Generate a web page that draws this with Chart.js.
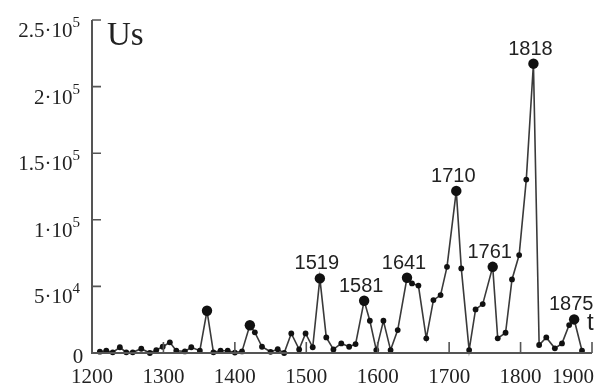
<!DOCTYPE html>
<html lang="en">
<head>
    <meta charset="UTF-8">
    <title>Us(t)</title>
    <script src="https://cdn.jsdelivr.net/npm/chart.js@4.4.1/dist/chart.umd.min.js"></script>
    <style>
        body { margin: 0; background: #fff; }
        #chart { display: block; }
    </style>
</head>
<body>
    <canvas id="chart" width="610" height="385"></canvas>

    <script>
        // series
        const years = [1211, 1220, 1229, 1239, 1248, 1257, 1269, 1281, 1290, 1299, 1309, 1318, 1330, 1339, 1351, 1361, 1370, 1380, 1390, 1400,
            1410, 1421, 1428, 1438, 1450, 1460, 1469, 1479, 1490, 1499, 1509, 1519, 1528, 1538, 1549, 1560, 1569, 1581, 1589, 1598,
            1608, 1618, 1628, 1641, 1648, 1657, 1668, 1678, 1688, 1697, 1710, 1717, 1728, 1737, 1747, 1761, 1768, 1779, 1788, 1798,
            1808, 1818, 1826, 1836, 1848, 1858, 1868, 1875, 1886];
        const usValues = [1000, 1700, 500, 4300, 500, 500, 3200, 0, 2200, 4700, 8000, 1700, 1200, 4300, 1700, 31700, 500, 1700, 1700, 300,
            1200, 20800, 15500, 4700, 900, 2800, 0, 14700, 2700, 14700, 4300, 56000, 11700, 2700, 7200, 4700, 6700, 39200, 24200, 2200,
            24200, 2200, 17200, 56500, 52200, 50600, 11000, 39700, 43500, 64700, 121700, 63500, 2200, 32700, 36700, 64700, 11000, 15200, 55200, 73500,
            130200, 217200, 6000, 11700, 3500, 7200, 21000, 25200, 1700];

        // big dots, and the ones that carry a year label
        const peakYears = [1361, 1421, 1519, 1581, 1641, 1710, 1761, 1818, 1875];
        const labelledPeaks = [1519, 1581, 1641, 1710, 1761, 1818, 1875];

        const xTicks = [1200, 1300, 1400, 1500, 1600, 1700, 1800, 1900];
        const yTicks = [0, 50000, 100000, 150000, 200000, 250000];
        const yTickBase = ['0', '5·10', '1·10', '1.5·10', '2·10', '2.5·10'];
        const yTickExp = ['', '4', '5', '5', '5', '5'];

        const points = years.map((y, i) => ({ x: y, y: usValues[i] }));

        const axesPlugin = {
            id: 'axesPlugin',
            afterDraw(chart) {
                const ctx = chart.ctx;
                const xs = chart.scales.x;
                const ys = chart.scales.y;
                const area = chart.chartArea;
                ctx.save();

                // axis lines
                ctx.strokeStyle = '#555';
                ctx.lineWidth = 2;
                ctx.beginPath();
                ctx.moveTo(area.left, area.top);
                ctx.lineTo(area.left, area.bottom);
                ctx.lineTo(area.right, area.bottom);
                ctx.stroke();

                // inward tick marks
                ctx.lineWidth = 1.6;
                ctx.beginPath();
                yTicks.forEach(v => {
                    if (v === 0) return;
                    const py = ys.getPixelForValue(v);
                    ctx.moveTo(area.left, py);
                    ctx.lineTo(area.left + 9, py);
                });
                xTicks.forEach(v => {
                    if (v === 1200) return;
                    const px = xs.getPixelForValue(v);
                    ctx.moveTo(px, area.bottom);
                    ctx.lineTo(px, area.bottom - 11);
                });
                ctx.stroke();

                // y tick labels with exponent
                ctx.fillStyle = '#222';
                yTicks.forEach((v, i) => {
                    const py = ys.getPixelForValue(v);
                    if (!yTickExp[i]) {
                        ctx.font = '21px "Liberation Serif"';
                        ctx.textAlign = 'center';
                        ctx.textBaseline = 'alphabetic';
                        ctx.fillText(yTickBase[i], 78, py + 10);
                        return;
                    }
                    ctx.font = '15px "Liberation Serif"';
                    const ew = ctx.measureText(yTickExp[i]).width;
                    ctx.textAlign = 'left';
                    ctx.textBaseline = 'alphabetic';
                    ctx.fillText(yTickExp[i], 80 - ew, py + 7);
                    ctx.font = '21px "Liberation Serif"';
                    ctx.textAlign = 'right';
                    ctx.fillText(yTickBase[i], 80 - ew, py + 17);
                });

                // x tick labels
                ctx.font = '21px "Liberation Serif"';
                ctx.textBaseline = 'alphabetic';
                xTicks.forEach((v, i) => {
                    const px = xs.getPixelForValue(v);
                    if (i === xTicks.length - 1) {
                        ctx.textAlign = 'right';
                        ctx.fillText(String(v), px + 2, 383);
                    } else {
                        ctx.textAlign = 'center';
                        ctx.fillText(String(v), px, 383);
                    }
                });

                // peak year labels
                ctx.font = '20px "Liberation Sans"';
                ctx.textAlign = 'center';
                labelledPeaks.forEach(yr => {
                    const i = years.indexOf(yr);
                    const px = xs.getPixelForValue(yr);
                    const py = ys.getPixelForValue(usValues[i]);
                    ctx.fillText(String(yr), px - 3, py - 9);
                });

                // axis names
                ctx.textAlign = 'left';
                ctx.font = '33px "Liberation Serif"';
                ctx.fillText('Us', area.left + 15, 45);
                ctx.font = '24px "Liberation Sans"';
                ctx.fillText('t', 587, 330);

                ctx.restore();
            }
        };

        new Chart(document.getElementById('chart'), {
            type: 'line',
            data: {
                datasets: [{
                    data: points,
                    borderColor: '#3a3a3a',
                    borderWidth: 1.6,
                    tension: 0,
                    clip: false,
                    pointBackgroundColor: '#111',
                    pointBorderColor: '#111',
                    pointBorderWidth: 0,
                    pointRadius: c => peakYears.includes(years[c.dataIndex]) ? 5.2 : 2.9
                }]
            },
            options: {
                responsive: false,
                animation: false,
                events: [],
                layout: { padding: { left: 92, right: 18, top: 20, bottom: 32 } },
                plugins: { legend: { display: false }, tooltip: { enabled: false } },
                scales: {
                    x: { type: 'linear', min: 1200, max: 1900, display: false },
                    y: { min: 0, max: 250000, display: false }
                }
            },
            plugins: [axesPlugin]
        });
    </script>
</body>
</html>
